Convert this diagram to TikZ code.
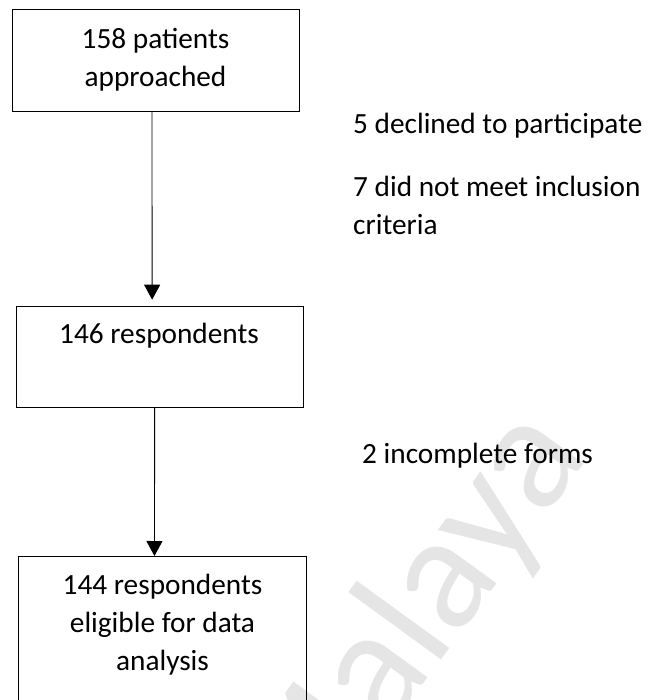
\documentclass[tikz,border=0pt]{standalone}
\usepackage{fontspec}
\setmainfont{Carlito}
\usetikzlibrary{arrows.meta}
\begin{document}
\begin{tikzpicture}[x=1pt,y=-1pt,
  boxshape/.style={draw, line width=0.9pt, inner sep=0pt, anchor=north west},
  txt/.style={font=\fontsize{29.3}{38}\selectfont, inner sep=0pt, align=center, anchor=base},
  side/.style={font=\fontsize{29.3}{38}\selectfont, inner sep=0pt, anchor=base west},
  arr/.style={-{Triangle[width=16pt,length=15pt]}, line width=0.9pt},
  wmark/.style={rotate=54, anchor=base east, text=black!10, inner sep=0pt, font=\fontsize{165}{165}\selectfont}]
\useasboundingbox (0,0) rectangle (655,700);
\clip (0,0) rectangle (655,700);
\fill[white] (0,0) rectangle (655,700);
\node[wmark] (wm) at (590,455) {Malaya};
% boxes
\node[boxshape, minimum width=287pt, minimum height=102pt] (b1) at (12,9) {};
\node[boxshape, minimum width=287pt, minimum height=101pt] (b2) at (15.7,305.7) {};
\node[boxshape, minimum width=288pt, minimum height=170pt] (b3) at (18,556) {};
% box texts
\node[txt] (t1) at (155.5,87) {158 patients\\approached};
\node[txt] (t2) at (159,343) {146 respondents};
\node[txt] (t3) at (162.5,670) {144 respondents\\eligible for data\\analysis};
% side texts
\node[side] (s1) at (353,134) {5 declined to participate};
\node[side] (s2) at (353,197) {7 did not meet inclusion};
\node[side] (s3) at (353,235) {criteria};
\node[side] (s4) at (362,463) {2 incomplete forms};
% arrows
\draw[arr, shorten >=6pt] ([xshift=-4pt]b1.south) -- ([xshift=-7.5pt]b2.north);
\draw[arr] ([xshift=-5pt]b2.south) -- ([xshift=-8pt]b3.north);
\end{tikzpicture}
\end{document}
